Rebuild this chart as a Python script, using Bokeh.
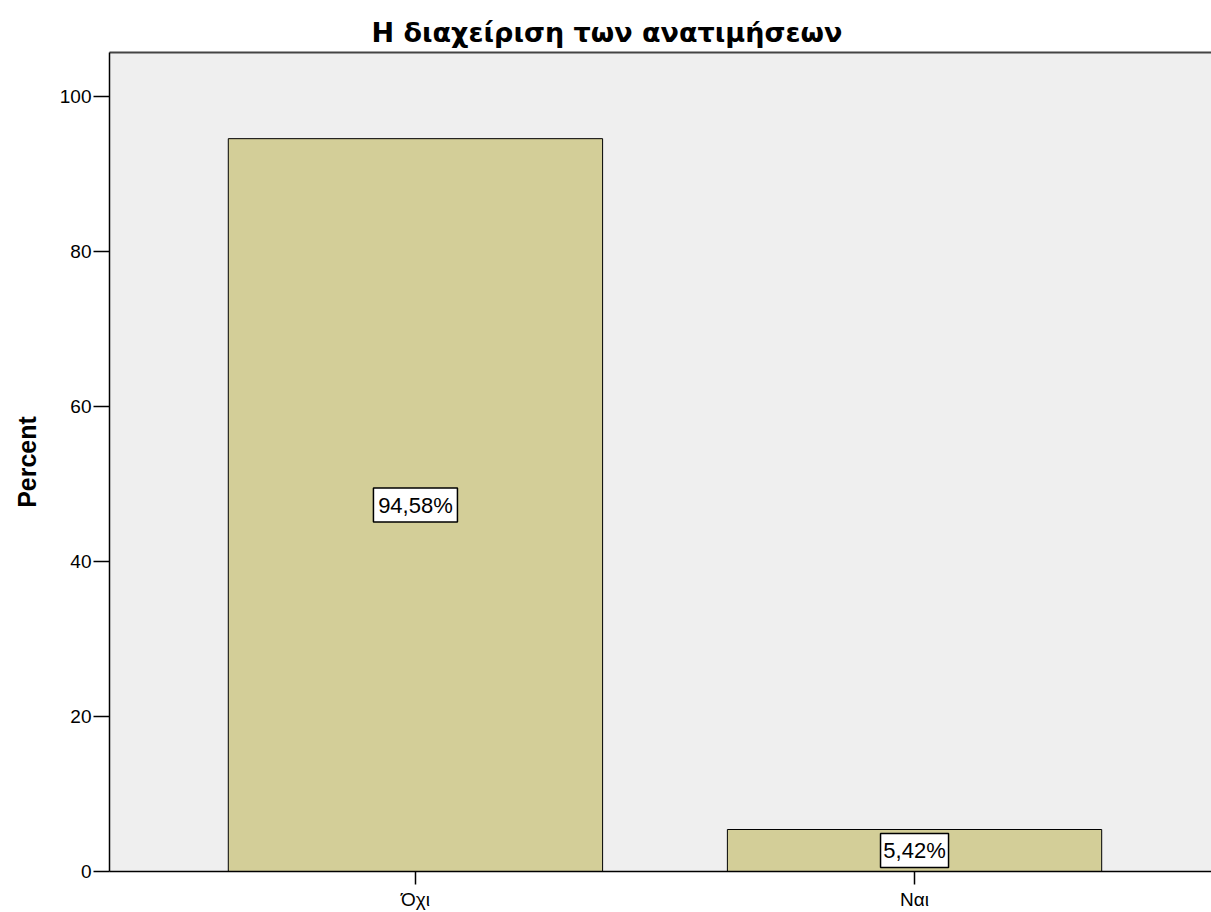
from bokeh.plotting import figure
from bokeh.models import ColumnDataSource, Range1d, SingleIntervalTicker, FixedTicker, LinearAxis
from bokeh.core.properties import value
from bokeh.embed import file_html
from bokeh.resources import INLINE

categories = ["Όχι", "Ναι"]
percents = [94.58, 5.42]
labels = ["94,58%", "5,42%"]

xs = list(range(len(categories)))
src = ColumnDataSource(dict(x=xs, pct=percents, mid=[v / 2 for v in percents], lab=labels,
                            bw=[len(s) * 16 - 12 for s in labels]))

p = figure(width=1211, height=912, output_backend="svg", toolbar_location=None,
           x_range=Range1d(-0.613, 1.595),
           y_range=Range1d(0, 105.7),
           min_border_left=109, min_border_top=52, min_border_right=0, min_border_bottom=39)

p.title.text = "Η διαχείριση των ανατιμήσεων"
p.title.align = "left"
p.title.offset = 262
p.title.text_font = "DejaVu Sans"
p.title.text_font_size = "27px"
p.title.text_font_style = "bold"
p.title.text_color = "black"

p.background_fill_color = "#EFEFEF"
p.border_fill_color = "white"
p.outline_line_color = None
p.xgrid.visible = False
p.ygrid.visible = False

p.vbar(x="x", top="pct", width=0.75, source=src, fill_color="#D3CE98", line_color="black", line_width=1)

p.rect(x="x", y="mid", width="bw", height=34, width_units="screen", height_units="screen",
       source=src, fill_color="white", line_color="black", line_width=1.5)
p.text(x="x", y="mid", text="lab", source=src, text_align="center", text_baseline="middle",
       text_font=value("Liberation Sans"), text_font_size=value("22px"), text_color="black")

xb = p.xaxis[0]
yl = p.yaxis[0]

yl.ticker = SingleIntervalTicker(interval=20, num_minor_ticks=0)
yl.axis_label = "Percent"
yl.axis_label_text_font = "Liberation Sans"
yl.axis_label_text_font_size = "25px"
yl.axis_label_text_font_style = "bold"
yl.axis_label_text_color = "black"
yl.axis_label_standoff = 16

xb.ticker = FixedTicker(ticks=xs)
xb.major_label_overrides = {i: c for i, c in zip(xs, categories)}

for ax in (xb, yl):
    ax.axis_line_color = "black"
    ax.axis_line_width = 1.5
    ax.major_tick_line_color = "black"
    ax.major_tick_line_width = 1.5
    ax.major_tick_in = 0
    ax.minor_tick_line_color = None
    ax.major_label_text_font = "Liberation Sans"
    ax.major_label_text_font_size = "19px"
    ax.major_label_text_color = "black"

yl.major_tick_out = 16
xb.major_tick_out = 13
yl.major_label_standoff = 2
xb.major_label_standoff = 4

top = LinearAxis(ticker=FixedTicker(ticks=[]), axis_line_color="#444444", axis_line_width=2,
                 major_tick_line_color=None, minor_tick_line_color=None,
                 major_tick_out=0, major_tick_in=0, major_label_standoff=0,
                 major_label_text_font_size="0px")
p.add_layout(top, "above")

open("out.html", "w").write(file_html(p, INLINE))
